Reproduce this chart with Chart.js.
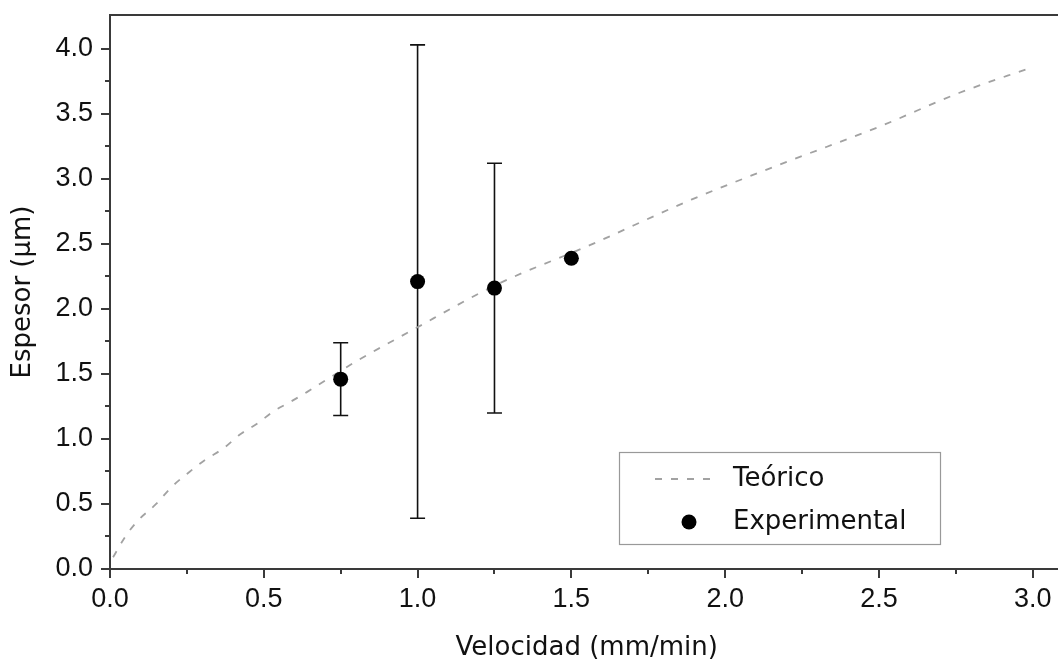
<!DOCTYPE html>
<html>
<head>
<meta charset="utf-8">
<script src="https://cdn.jsdelivr.net/npm/chart.js@4/dist/chart.umd.min.js"></script>
<style>
  html, body { margin: 0; padding: 0; background: #fff; overflow: hidden; }
  canvas { display: block; }
</style>
</head>
<body>
<canvas id="chart" width="1071" height="661"></canvas>
<script>
  // theoretical curve
  const theoryX = [0.01, 0.05, 0.09, 0.15, 0.2, 0.26, 0.31, 0.37, 0.42, 0.48, 0.53, 0.59, 0.64, 0.7, 0.81, 0.97, 1.26, 1.56, 1.89, 2.2, 2.5, 2.76, 3.0];
  const theoryY = [0.09, 0.25, 0.37, 0.5, 0.63, 0.75, 0.84, 0.93, 1.03, 1.12, 1.21, 1.29, 1.36, 1.45, 1.61, 1.82, 2.19, 2.49, 2.84, 3.13, 3.4, 3.66, 3.86];

  // experimental points with error bar ends
  const expX = [0.75, 1.0, 1.25, 1.5];
  const expY = [1.46, 2.21, 2.16, 2.39];
  const expLow = [1.18, 0.39, 1.2, null];
  const expHigh = [1.74, 4.03, 3.12, null];

  const xTicks = [0, 0.5, 1.0, 1.5, 2.0, 2.5, 3.0];
  const yTicks = [0, 0.5, 1.0, 1.5, 2.0, 2.5, 3.0, 3.5, 4.0];
  const seriesLabels = ['Teórico', 'Experimental'];
  const xTitle = 'Velocidad (mm/min)';
  const yTitle = 'Espesor (μm)';

  const TICK_FONT = { family: 'Arial, "Liberation Sans", sans-serif', size: 27 };
  const TITLE_FONT = { family: '"DejaVu Sans", Verdana, sans-serif', size: 26 };
  const INK = '#111';
  const AXIS = '#3a3a3a';
  const DASH_COLOR = '#a2a2a2';
  const DASH = [7, 9];

  const midpoints = (list) => list.slice(1).map((v, i) => (v + list[i]) / 2);

  const errorBars = {
    id: 'errorBars',
    beforeDatasetsDraw(chart) {
      const { ctx, scales: { x, y } } = chart;
      ctx.save();
      ctx.strokeStyle = INK;
      ctx.lineWidth = 1.6;
      expX.forEach((v, i) => {
        if (expLow[i] == null) return;
        const px = x.getPixelForValue(v);
        const lo = y.getPixelForValue(expLow[i]);
        const hi = y.getPixelForValue(expHigh[i]);
        ctx.beginPath();
        ctx.moveTo(px, lo); ctx.lineTo(px, hi);
        ctx.moveTo(px - 7.5, lo); ctx.lineTo(px + 7.5, lo);
        ctx.moveTo(px - 7.5, hi); ctx.lineTo(px + 7.5, hi);
        ctx.stroke();
      });
      ctx.restore();
    },
  };

  const frame = {
    id: 'frame',
    afterDraw(chart) {
      const { ctx, chartArea: a, scales: { x, y } } = chart;
      ctx.save();
      ctx.strokeStyle = AXIS;
      ctx.lineWidth = 2;
      // top border
      ctx.beginPath();
      ctx.moveTo(a.left - 1, a.top);
      ctx.lineTo(a.right, a.top);
      ctx.stroke();
      // ticks, pointing outward
      const tick = (px, py, dx, dy) => { ctx.moveTo(px, py); ctx.lineTo(px + dx, py + dy); };
      ctx.beginPath();
      xTicks.forEach((v) => tick(Math.round(x.getPixelForValue(v)), a.bottom, 0, 9));
      midpoints(xTicks).forEach((v) => tick(Math.round(x.getPixelForValue(v)), a.bottom, 0, 5));
      yTicks.forEach((v) => tick(a.left, Math.round(y.getPixelForValue(v)), -9, 0));
      midpoints(yTicks).forEach((v) => tick(a.left, Math.round(y.getPixelForValue(v)), -5, 0));
      ctx.stroke();
      ctx.restore();
    },
  };

  const boxLegend = {
    id: 'boxLegend',
    afterDraw(chart) {
      const { ctx } = chart;
      const [theory, exp] = chart.data.datasets;
      ctx.save();
      ctx.fillStyle = '#fff';
      ctx.fillRect(619, 452, 321, 92);
      ctx.strokeStyle = '#999';
      ctx.lineWidth = 1.2;
      ctx.strokeRect(619.5, 452.5, 321, 92);

      ctx.strokeStyle = theory.borderColor;
      ctx.lineWidth = theory.borderWidth;
      ctx.setLineDash(DASH);
      ctx.beginPath();
      ctx.moveTo(655, 479);
      ctx.lineTo(716, 479);
      ctx.stroke();
      ctx.setLineDash([]);

      ctx.fillStyle = exp.backgroundColor;
      ctx.beginPath();
      ctx.arc(689, 522, exp.pointRadius, 0, Math.PI * 2);
      ctx.fill();

      ctx.fillStyle = INK;
      ctx.font = `${TITLE_FONT.size}px ${TITLE_FONT.family}`;
      ctx.textBaseline = 'middle';
      ctx.textAlign = 'left';
      ctx.fillText(theory.label, 733, 479);
      ctx.fillText(exp.label, 733, 522);
      ctx.restore();
    },
  };

  new Chart(document.getElementById('chart'), {
    type: 'scatter',
    data: {
      datasets: [
        {
          label: seriesLabels[0],
          data: theoryX.map((v, i) => ({ x: v, y: theoryY[i] })),
          showLine: true,
          borderColor: DASH_COLOR,
          borderWidth: 1.8,
          borderDash: DASH,
          pointRadius: 0,
          cubicInterpolationMode: 'monotone',
          order: 1,
        },
        {
          label: seriesLabels[1],
          data: expX.map((v, i) => ({ x: v, y: expY[i] })),
          showLine: false,
          backgroundColor: '#000',
          borderWidth: 0,
          pointRadius: 7.5,
          order: 0,
        },
      ],
    },
    options: {
      responsive: false,
      animation: false,
      layout: { padding: { top: 15, left: 0, right: 0, bottom: 0 } },
      plugins: { legend: { display: false }, tooltip: { enabled: false } },
      scales: {
        x: {
          type: 'linear',
          min: 0,
          max: 3.1,
          afterBuildTicks: (scale) => { scale.ticks = xTicks.map((v) => ({ value: v })); },
          afterFit: (scale) => { scale.height = 92; scale.paddingLeft = 0; scale.paddingRight = 0; },
          grid: { display: false, drawTicks: true, tickLength: 9 },
          border: { display: true, color: AXIS, width: 2 },
          ticks: { font: TICK_FONT, color: INK, padding: 5, maxRotation: 0, callback: (v) => Number(v).toFixed(1) },
          title: { display: true, text: xTitle, font: { ...TITLE_FONT, lineHeight: 1.0 }, color: INK, padding: { top: 10, bottom: 0 } },
        },
        y: {
          type: 'linear',
          min: 0,
          max: 4.26,
          afterBuildTicks: (scale) => { scale.ticks = yTicks.map((v) => ({ value: v })); },
          afterFit: (scale) => { scale.width = 110; scale.paddingTop = 0; scale.paddingBottom = 0; },
          grid: { display: false, drawTicks: true, tickLength: 9 },
          border: { display: true, color: AXIS, width: 2 },
          ticks: { font: TICK_FONT, color: INK, padding: 8, callback: (v) => Number(v).toFixed(1) },
          title: { display: true, text: yTitle, font: TITLE_FONT, color: INK, padding: { top: 8, bottom: 0 } },
        },
      },
    },
    plugins: [errorBars, frame, boxLegend],
  });
</script>
</body>
</html>
